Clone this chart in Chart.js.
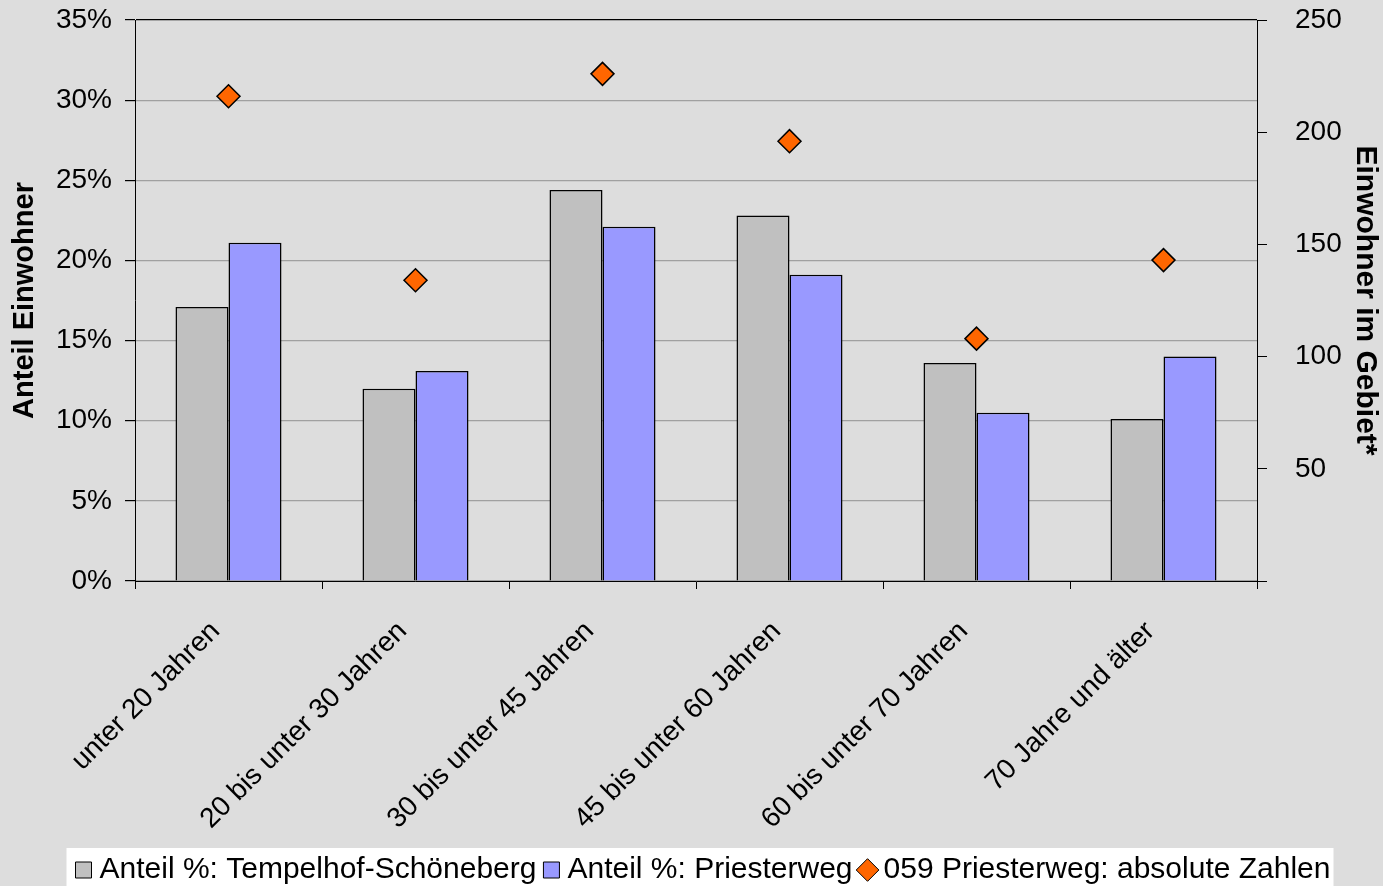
<!DOCTYPE html>
<html>
<head>
<meta charset="utf-8">
<script src="https://cdn.jsdelivr.net/npm/chart.js@4.4.1/dist/chart.umd.min.js"></script>
<style>
  html, body { margin: 0; padding: 0; background: #dddddd; }
  #wrap { width: 1383px; height: 886px; position: relative; }
</style>
</head>
<body>
<div id="wrap"><canvas id="chart" width="1383" height="886"></canvas></div>
<script>
const categories = [
  "unter 20 Jahren",
  "20 bis unter 30 Jahren",
  "30 bis unter 45 Jahren",
  "45 bis unter 60 Jahren",
  "60 bis unter 70 Jahren",
  "70 Jahre und älter",
];
const anteilTempelhof = [17.1, 12.0, 24.4, 22.8, 13.6, 10.1];
const anteilPriesterweg = [21.1, 13.1, 22.1, 19.1, 10.5, 14.0];
const absolutPriesterweg = [216, 134, 226, 196, 108, 143];

const FONT = "'Liberation Sans', Arial, sans-serif";
Chart.defaults.font.family = FONT;
Chart.defaults.color = "#000";

// grey page + white legend box, legend nudged a bit right
const backdrop = {
  id: "backdrop",
  afterLayout(chart) {
    const lg = chart.legend;
    if (lg) {
      lg.left += 15;
      lg.right += 15;
    }
  },
  beforeDraw(chart) {
    const { ctx, legend } = chart;
    ctx.save();
    ctx.fillStyle = "#dddddd";
    ctx.fillRect(0, 0, chart.width, chart.height);
    if (legend && legend.legendHitBoxes.length) {
      const boxes = legend.legendHitBoxes;
      const left = Math.min(...boxes.map((b) => b.left)) - 16;
      const right = Math.max(...boxes.map((b) => b.left + b.width)) + 3;
      ctx.fillStyle = "#ffffff";
      ctx.fillRect(left, 848, right - left, chart.height - 848);
    }
    ctx.restore();
  },
};

// keep the y axes from reserving room for half a tick label
function noVerticalPad(scale) {
  scale.paddingTop = 0;
  scale.paddingBottom = 0;
}

new Chart(document.getElementById("chart"), {
  data: {
    labels: categories,
    datasets: [
      {
        type: "line",
        label: "059 Priesterweg: absolute Zahlen",
        data: absolutPriesterweg,
        yAxisID: "y2",
        showLine: false,
        pointStyle: "rectRot",
        pointRadius: 11.5,
        pointBackgroundColor: "#ff6600",
        pointBorderColor: "#000",
        pointBorderWidth: 1.5,
        backgroundColor: "#ff6600",
        borderColor: "#000",
        order: 0,
      },
      {
        type: "bar",
        label: "Anteil %: Tempelhof-Schöneberg",
        data: anteilTempelhof,
        yAxisID: "y",
        backgroundColor: "#c0c0c0",
        borderColor: "#000",
        borderWidth: 1.5,
        barPercentage: 1,
        categoryPercentage: 0.567,
        order: 1,
      },
      {
        type: "bar",
        label: "Anteil %: Priesterweg",
        data: anteilPriesterweg,
        yAxisID: "y",
        backgroundColor: "#9999ff",
        borderColor: "#000",
        borderWidth: 1.5,
        barPercentage: 1,
        categoryPercentage: 0.567,
        order: 1,
      },
    ],
  },
  options: {
    responsive: false,
    animation: false,
    layout: { padding: { top: 20, left: 0, right: 0, bottom: -9 } },
    plugins: {
      tooltip: { enabled: false },
      legend: {
        position: "bottom",
        labels: {
          font: { size: 30, family: FONT },
          color: "#000",
          usePointStyle: true,
          boxWidth: 2,
          boxHeight: 16,
          padding: 14,
          sort: (a, b) => [1, 2, 0].indexOf(a.datasetIndex) - [1, 2, 0].indexOf(b.datasetIndex),
          generateLabels(chart) {
            return chart.data.datasets.map((ds, i) => ({
              text: ds.label,
              datasetIndex: i,
              fillStyle: ds.type === "line" ? ds.pointBackgroundColor : ds.backgroundColor,
              strokeStyle: "#000",
              lineWidth: 1,
              pointStyle: ds.type === "line" ? "rectRot" : "rect",
              fontColor: "#000",
            }));
          },
        },
      },
    },
    scales: {
      x: {
        offset: true,
        grid: {
          offset: true,
          drawOnChartArea: false,
          drawTicks: true,
          tickLength: 8,
          color: "#000",
        },
        border: { color: "#000", width: 1 },
        ticks: {
          font: { size: 28, family: FONT },
          color: "#000",
          maxRotation: 45,
          minRotation: 45,
          autoSkip: false,
          padding: 26,
          labelOffset: -13,
        },
        afterFit(scale) { scale.height = 260; },
      },
      y: {
        position: "left",
        min: 0,
        max: 35,
        ticks: {
          stepSize: 5,
          font: { size: 28, family: FONT },
          color: "#000",
          padding: 13,
          callback: (v) => v + "%",
        },
        grid: {
          color: (c) => (c.tick && c.tick.value === 35 ? "#000" : "#a0a0a0"),
          tickColor: "#000",
          tickLength: 10,
          lineWidth: 1.2,
        },
        border: { color: "#000", width: 1 },
        title: {
          display: true,
          text: "Anteil Einwohner",
          font: { size: 29, weight: "bold", family: FONT },
          color: "#000",
          padding: { top: 8, bottom: 4 },
        },
        afterFit(scale) {
          scale.width = 135;
          noVerticalPad(scale);
        },
      },
      y2: {
        position: "right",
        min: 0,
        max: 250,
        ticks: {
          stepSize: 50,
          font: { size: 28, family: FONT },
          color: "#000",
          padding: 28,
          callback: (v) => (v === 0 ? "" : v),
        },
        grid: {
          drawOnChartArea: false,
          tickColor: "#000",
          tickLength: 10,
        },
        border: { color: "#000", width: 1 },
        title: {
          display: true,
          text: "Einwohner im Gebiet*",
          font: { size: 30, weight: "bold", family: FONT },
          color: "#000",
          padding: { top: 0, bottom: 4 },
        },
        afterFit(scale) {
          scale.width = 126;
          noVerticalPad(scale);
        },
      },
    },
  },
  plugins: [backdrop],
});
</script>
</body>
</html>
